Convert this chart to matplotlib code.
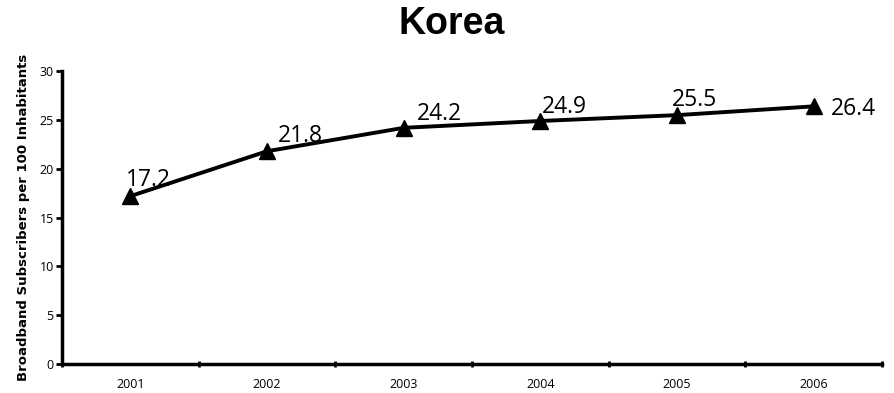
import matplotlib.pyplot as plt
import numpy as np

years = ['2001', '2002', '2003', '2004', '2005', '2006']
subscribers = [17.2, 21.8, 24.2, 24.9, 25.5, 26.4]

# label offsets in pixels (dx, dy) from each marker to the text baseline
label_offsets = [(-4, 10), (11, 9), (13, 8), (2, 8), (-5, 9), (17, -9)]

fig = plt.figure(figsize=(8.95, 3.93), dpi=100)
ax = fig.add_axes([0.0693, 0.0738, 0.9162, 0.745])

x = np.arange(len(years)) + 0.5
ax.plot(x, subscribers, color='black', linewidth=2.8, marker='^',
        markersize=11, markerfacecolor='black', clip_on=False, zorder=3)

for xi, v, (dx, dy) in zip(x, subscribers, label_offsets):
    ax.annotate(f'{v:.1f}', (xi, v), xytext=(dx, dy), textcoords='offset pixels',
                fontsize=16.5, family='Open Sans', ha='left', va='baseline')

ax.set_xlim(0, len(years))
ax.set_ylim(0, 30)
ax.set_yticks(range(0, 31, 5))
ax.tick_params(axis='y', labelsize=9, length=4, width=2, direction='out', pad=2)

# category boundaries get tick marks, names sit in the middle
ax.set_xticks(np.arange(len(years) + 1))
ax.set_xticklabels([])
ax.set_xticks(x, minor=True)
ax.set_xticklabels(years, minor=True, fontsize=9, family='Open Sans')
ax.tick_params(axis='x', which='major', length=4, width=2, direction='inout')
ax.tick_params(axis='x', which='minor', length=0, pad=10)
for lab in ax.get_yticklabels():
    lab.set_family('Open Sans')

for side in ['top', 'right']:
    ax.spines[side].set_visible(False)
for side in ['left', 'bottom']:
    ax.spines[side].set_linewidth(2.5)

ax.set_ylabel('Broadband Subscribers per 100 Inhabitants', fontsize=9.5,
              fontweight='bold', family='DejaVu Sans')
ax.yaxis.set_label_coords(-0.039, 0.5)
fig.text(0.5045, 0.938, 'Korea', ha='center', va='center', fontsize=27,
         fontweight='bold', family='Liberation Sans')

fig.savefig('out.png', dpi=100)
